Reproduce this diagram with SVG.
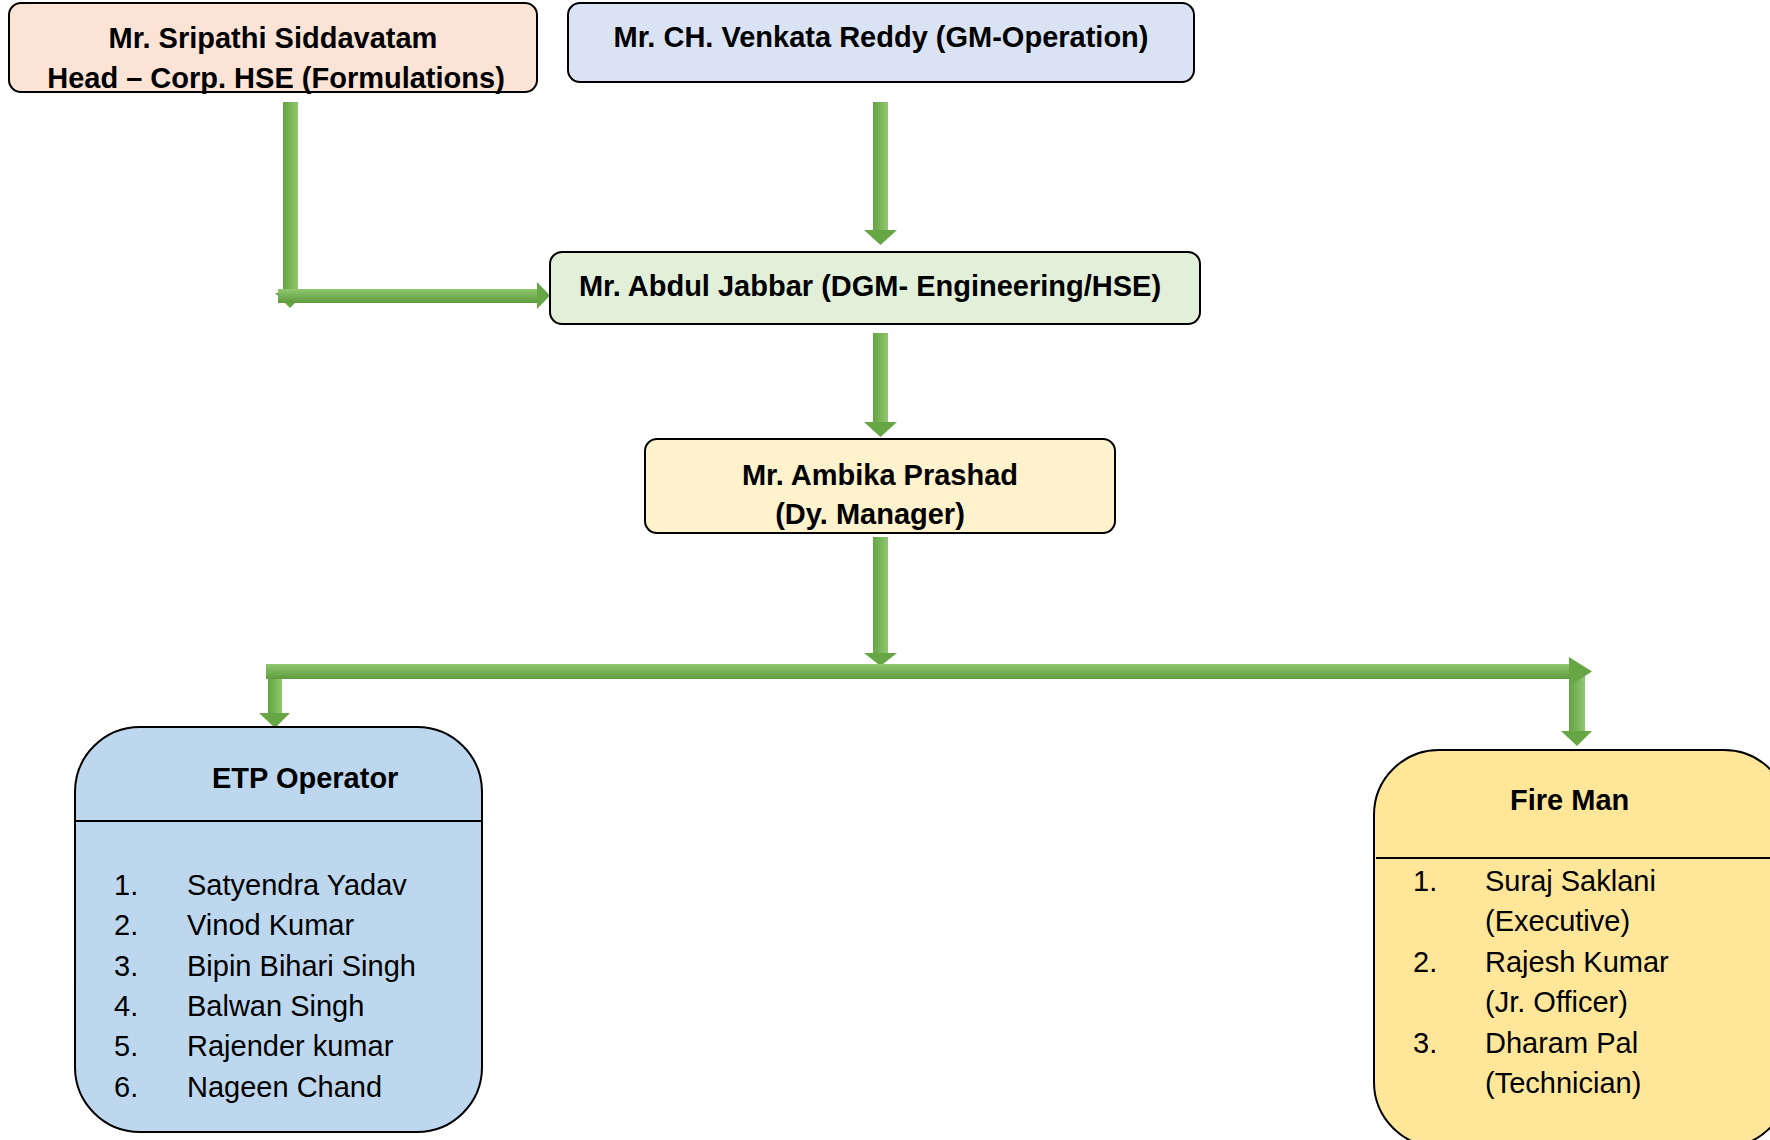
<svg xmlns="http://www.w3.org/2000/svg" width="1770" height="1140" viewBox="0 0 1770 1140">
<style>
.box{stroke:#000;stroke-width:2}
.t{font-family:"Liberation Sans",Arial,sans-serif;font-size:29px;fill:#000}
.b{font-weight:bold}
.m{text-anchor:middle}
.head{fill:#66A644}
</style>
<defs>
<linearGradient id="gv" x1="0" y1="0" x2="1" y2="0">
<stop offset="0" stop-color="#65A443"/><stop offset="1" stop-color="#8FC76E"/>
</linearGradient>
<linearGradient id="gh" x1="0" y1="0" x2="0" y2="1">
<stop offset="0" stop-color="#8FC76E"/><stop offset="1" stop-color="#5F9B3D"/>
</linearGradient>
</defs>
<rect width="1770" height="1140" fill="#fff"/>
<g id="connectors">
<rect x="283" y="102" width="15" height="193" fill="url(#gv)"/>
<polygon class="head" points="275,293 305,293 290,308"/>
<rect x="278" y="289" width="259" height="14" fill="url(#gh)"/>
<polygon class="head" points="537,282 550,295.5 537,309"/>
<rect x="873" y="102" width="15" height="129" fill="url(#gv)"/>
<polygon class="head" points="864,230 897,230 880.5,245"/>
<rect x="873" y="333" width="15" height="90" fill="url(#gv)"/>
<polygon class="head" points="864,422 897,422 880.5,437"/>
<rect x="873" y="537" width="15" height="117" fill="url(#gv)"/>
<polygon class="head" points="864,653 897,653 880.5,666"/>
<rect x="268" y="671" width="14" height="43" fill="url(#gv)"/>
<polygon class="head" points="259,713 290,713 275,728"/>
<rect x="1569" y="671" width="16" height="61" fill="url(#gv)"/>
<polygon class="head" points="1561,731 1592,731 1577,746"/>
<rect x="266" y="664" width="1304" height="15" fill="url(#gh)"/>
<polygon class="head" points="1569,657 1592,671.5 1569,686"/>
</g>
<g id="sripathi">
<rect class="box" x="9" y="3" width="528" height="89" rx="12" fill="#FBE4D5"/>
<text class="t b m" x="273" y="48">Mr. Sripathi Siddavatam</text>
<text class="t b m" x="276" y="88">Head – Corp. HSE (Formulations)</text>
</g>
<g id="venkata">
<rect class="box" x="568" y="3" width="626" height="79" rx="12" fill="#DAE3F3"/>
<text class="t b m" x="881" y="47">Mr. CH. Venkata Reddy (GM-Operation)</text>
</g>
<g id="abdul">
<rect class="box" x="550" y="252" width="650" height="72" rx="12" fill="#E2EFD9"/>
<text class="t b m" x="870" y="296">Mr. Abdul Jabbar (DGM- Engineering/HSE)</text>
</g>
<g id="ambika">
<rect class="box" x="645" y="439" width="470" height="94" rx="12" fill="#FFF2CC"/>
<text class="t b m" x="880" y="485">Mr. Ambika Prashad</text>
<text class="t b m" x="870" y="524">(Dy. Manager)</text>
</g>
<g id="etp">
<rect class="box" x="75" y="727" width="407" height="405" rx="65" fill="#BDD7EE"/>
<line x1="75" y1="821" x2="482" y2="821" stroke="#000" stroke-width="2"/>
<text class="t b" x="212" y="788">ETP Operator</text>
<text class="t" x="114" y="895">1.</text><text class="t" x="187" y="895">Satyendra Yadav</text>
<text class="t" x="114" y="935">2.</text><text class="t" x="187" y="935">Vinod Kumar</text>
<text class="t" x="114" y="976">3.</text><text class="t" x="187" y="976">Bipin Bihari Singh</text>
<text class="t" x="114" y="1016">4.</text><text class="t" x="187" y="1016">Balwan Singh</text>
<text class="t" x="114" y="1056">5.</text><text class="t" x="187" y="1056">Rajender kumar</text>
<text class="t" x="114" y="1097">6.</text><text class="t" x="187" y="1097">Nageen Chand</text>
</g>
<g id="fireman">
<rect class="box" x="1374" y="750" width="415" height="397" rx="65" fill="#FFE699"/>
<line x1="1376" y1="858" x2="1770" y2="858" stroke="#000" stroke-width="2"/>
<text class="t b" x="1510" y="810">Fire Man</text>
<text class="t" x="1413" y="891">1.</text><text class="t" x="1485" y="891">Suraj Saklani</text>
<text class="t" x="1485" y="931">(Executive)</text>
<text class="t" x="1413" y="972">2.</text><text class="t" x="1485" y="972">Rajesh Kumar</text>
<text class="t" x="1485" y="1012">(Jr. Officer)</text>
<text class="t" x="1413" y="1053">3.</text><text class="t" x="1485" y="1053">Dharam Pal</text>
<text class="t" x="1485" y="1093">(Technician)</text>
</g>
</svg>
